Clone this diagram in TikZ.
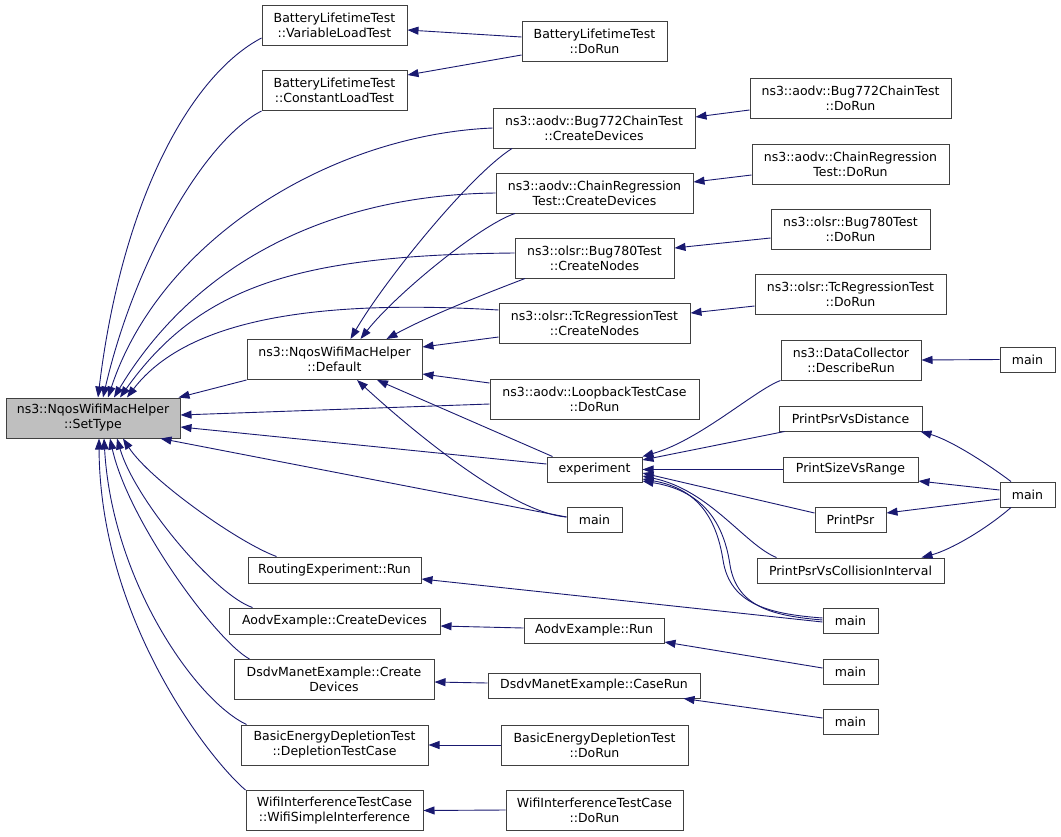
\documentclass[tikz,border=0pt]{standalone}
\usepackage{fontspec}
\setmainfont{DejaVu Sans}
\usetikzlibrary{arrows.meta}
\definecolor{edgeblue}{RGB}{25,25,112}
\definecolor{boxline}{HTML}{404040}
\definecolor{hilite}{HTML}{BFBFBF}

\begin{document}
\begin{tikzpicture}[x=1pt,y=-1pt,
  fn/.style={draw=boxline, fill=white, line width=1pt, inner sep=0pt, align=center,
    font=\fontsize{12.5}{15}\selectfont},
  call/.style={draw=edgeblue, line width=0.9pt, -{Triangle[length=11pt,width=8pt]}}]
\useasboundingbox (0,0) rectangle (1061,836);
% the function itself
\node[fn,fill=hilite,minimum width=174,minimum height=40] (settype) at (93,418) {ns3::NqosWifiMacHelper\\::SetType};
% direct callers
\node[fn,minimum width=145,minimum height=40] (vlt) at (334.5,25) {BatteryLifetimeTest\\::VariableLoadTest};
\node[fn,minimum width=145,minimum height=40] (clt) at (334.5,90.5) {BatteryLifetimeTest\\::ConstantLoadTest};
\node[fn,minimum width=175,minimum height=40] (deflt) at (334.5,359.5) {ns3::NqosWifiMacHelper\\::Default};
\node[fn,minimum width=173,minimum height=26] (rexp) at (334.5,570) {RoutingExperiment::Run};
\node[fn,minimum width=211,minimum height=26] (aodvcd) at (334.5,621) {AodvExample::CreateDevices};
\node[fn,minimum width=200,minimum height=40] (dsdvcd) at (334,679.5) {DsdvManetExample::Create\\Devices};
\node[fn,minimum width=187,minimum height=40] (basiccd) at (334.5,745) {BasicEnergyDepletionTest\\::DepletionTestCase};
\node[fn,minimum width=177,minimum height=40] (wifisi) at (334.5,810.5) {WifiInterferenceTestCase\\::WifiSimpleInterference};
% third column
\node[fn,minimum width=145,minimum height=40] (bdorun) at (594.5,41) {BatteryLifetimeTest\\::DoRun};
\node[fn,minimum width=202,minimum height=40] (bugcd) at (594,128) {ns3::aodv::Bug772ChainTest\\::CreateDevices};
\node[fn,minimum width=197,minimum height=40] (chaincd) at (594.5,193) {ns3::aodv::ChainRegression\\Test::CreateDevices};
\node[fn,minimum width=159,minimum height=40] (bugcn) at (594.5,258) {ns3::olsr::Bug780Test\\::CreateNodes};
\node[fn,minimum width=191,minimum height=40] (tccn) at (594.5,323) {ns3::olsr::TcRegressionTest\\::CreateNodes};
\node[fn,minimum width=209,minimum height=40] (loop) at (594.5,399) {ns3::aodv::LoopbackTestCase\\::DoRun};
\node[fn,minimum width=95,minimum height=25] (exper) at (594.5,469.5) {experiment};
\node[fn,minimum width=55,minimum height=25] (maina) at (594.5,519.5) {main};
\node[fn,minimum width=140,minimum height=25] (aodvrun) at (594,630.5) {AodvExample::Run};
\node[fn,minimum width=212,minimum height=25] (caserun) at (594,685.5) {DsdvManetExample::CaseRun};
\node[fn,minimum width=187,minimum height=40] (basicdo) at (594.5,745) {BasicEnergyDepletionTest\\::DoRun};
\node[fn,minimum width=177,minimum height=40] (wifido) at (594.5,810) {WifiInterferenceTestCase\\::DoRun};
% fourth column
\node[fn,minimum width=201,minimum height=40] (bugdo) at (850.5,98.5) {ns3::aodv::Bug772ChainTest\\::DoRun};
\node[fn,minimum width=197,minimum height=40] (chaindo) at (850.5,164) {ns3::aodv::ChainRegression\\Test::DoRun};
\node[fn,minimum width=159,minimum height=40] (bugdoo) at (850.5,229) {ns3::olsr::Bug780Test\\::DoRun};
\node[fn,minimum width=191,minimum height=40] (tcdo) at (850.5,294) {ns3::olsr::TcRegressionTest\\::DoRun};
\node[fn,minimum width=140,minimum height=40] (describe) at (851,360) {ns3::DataCollector\\::DescribeRun};
\node[fn,minimum width=143,minimum height=25] (psrdist) at (850.5,418.5) {PrintPsrVsDistance};
\node[fn,minimum width=135,minimum height=25] (sizerange) at (850.5,469.5) {PrintSizeVsRange};
\node[fn,minimum width=71,minimum height=25] (psr) at (850.5,519.5) {PrintPsr};
\node[fn,minimum width=187,minimum height=25] (psrcoll) at (850.5,570.5) {PrintPsrVsCollisionInterval};
\node[fn,minimum width=55,minimum height=25] (maind) at (850.5,621) {main};
\node[fn,minimum width=55,minimum height=25] (maine) at (850.5,672) {main};
\node[fn,minimum width=55,minimum height=25] (mainf) at (850.5,722) {main};
% last column
\node[fn,minimum width=55,minimum height=25] (mainb) at (1027.5,359.5) {main};
\node[fn,minimum width=55,minimum height=25] (mainc) at (1027.5,494.5) {main};

% calls into SetType, from above
\draw[call] ([yshift=-13pt]vlt.west) .. controls (191,75) and (122,199) .. ([xshift=5pt]settype.north);
\draw[call] (clt.south west) .. controls (205,140) and (135,260) .. ([xshift=10pt]settype.north);
\draw[call] (bugcd.west) .. controls (330,135) and (160,240) .. ([xshift=15pt]settype.north);
\draw[call] (chaincd.west) .. controls (340,195) and (200,255) .. ([xshift=21pt]settype.north);
\draw[call] ([yshift=5pt]bugcn.west) .. controls (300,255) and (200,285) .. ([xshift=27pt]settype.north);
\draw[call] ([yshift=13pt]tccn.west) .. controls (330,300) and (190,315) .. ([xshift=34pt]settype.north);
\draw[call] (deflt.south west) -- ([xshift=-2pt]settype.north east);
\draw[call] ([yshift=-5pt]loop.west) -- ([yshift=3pt]settype.east);
\draw[call] ([yshift=5.5pt]exper.west) -- ([yshift=-9pt]settype.east);
\draw[call] ([yshift=2.5pt]maina.west) -- ([xshift=-20pt]settype.south east);
% calls into SetType, from below
\draw[call] ([xshift=29pt]rexp.north west) .. controls (239,543) and (150,480) .. ([xshift=30pt]settype.south);
\draw[call] ([xshift=24pt]aodvcd.north west) .. controls (215,595) and (135,500) .. ([xshift=24pt]settype.south);
\draw[call] ([xshift=16pt]dsdvcd.north west) .. controls (215,640) and (128,520) .. ([xshift=17pt]settype.south);
\draw[call] ([xshift=6pt]basiccd.north west) .. controls (195,700) and (112,580) .. ([xshift=11pt]settype.south);
\draw[call] (wifisi.north west) .. controls (210,760) and (100,620) .. ([xshift=6pt]settype.south);
% calls into Default
\draw[call] ([xshift=-82pt]bugcd.south) .. controls (470,175) and (385,280) .. ([xshift=16pt]deflt.north);
\draw[call] ([xshift=-79.5pt]chaincd.south) .. controls (480,225) and (395,295) .. ([xshift=26pt]deflt.north);
\draw[call] ([xshift=-69.5pt]bugcn.south) .. controls (495,290) and (430,315) .. ([xshift=52pt]deflt.north);
\draw[call] ([yshift=-14pt]tccn.west) -- ([yshift=12.5pt]deflt.east);
\draw[call] ([yshift=16pt]loop.west) -- ([yshift=-14.5pt]deflt.east);
\draw[call] ([xshift=6pt]exper.north west) -- ([xshift=42.5pt]deflt.south);
\draw[call] ([yshift=2.5pt]maina.west) .. controls (505,512) and (395,415) .. ([xshift=22.5pt]deflt.south);
% the other callers
\draw[call] ([yshift=4pt]bdorun.west) -- ([yshift=-5pt]vlt.east);
\draw[call] ([yshift=-14pt]bdorun.west) -- ([yshift=15.5pt]clt.east);
\draw[call] ([yshift=-11.5pt]bugdo.west) -- ([yshift=11pt]bugcd.east);
\draw[call] ([yshift=-11pt]chaindo.west) -- ([yshift=11pt]chaincd.east);
\draw[call] ([yshift=-9pt]bugdoo.west) -- ([yshift=10pt]bugcn.east);
\draw[call] ([yshift=-12pt]tcdo.west) -- ([yshift=10pt]tccn.east);
\draw[call] (describe.south west) .. controls (755,390) and (700,440) .. (exper.north east);
\draw[call] ([xshift=6pt]psrdist.south west) -- ([yshift=9.5pt]exper.east);
\draw[call] (sizerange.west) -- (exper.east);
\draw[call] ([yshift=6.5pt]psr.west) -- ([yshift=-3.5pt]exper.east);
\draw[call] ([xshift=20pt]psrcoll.north west) .. controls (745,545) and (710,490) .. ([yshift=-6.5pt]exper.east);
\draw[call] ([yshift=3pt]maind.west) .. controls (770,614) and (730,605) .. (723,560)
  .. controls (716,515) and (695,488) .. ([yshift=-9.5pt]exper.east);
\draw[call] ([yshift=1pt]maind.west) .. controls (775,616) and (737,608) .. (730,565)
  .. controls (723,517) and (698,490) .. ([yshift=-11.5pt]exper.east);
\draw[call] ([yshift=-1pt]maind.west) -- ([yshift=-9pt]rexp.east);
\draw[call] (mainb.west) -- (describe.east);
\draw[call] ([xshift=-16.5pt]mainc.north) .. controls (985,462) and (950,440) .. ([xshift=-2pt]psrdist.south east);
\draw[call] ([yshift=4.5pt]mainc.west) -- ([yshift=-11.5pt]sizerange.east);
\draw[call] ([yshift=-4.5pt]mainc.west) -- ([yshift=6.5pt]psr.east);
\draw[call] ([xshift=-16.5pt]mainc.south) .. controls (985,530) and (950,550) .. ([xshift=-23pt]psrcoll.north east);
\draw[call] ([yshift=2.5pt]aodvrun.west) -- ([yshift=-5pt]aodvcd.east);
\draw[call] ([yshift=4pt]maine.west) -- ([yshift=-11.5pt]aodvrun.east);
\draw[call] ([yshift=2.5pt]caserun.west) -- ([yshift=-2.5pt]dsdvcd.east);
\draw[call] ([yshift=4pt]mainf.west) -- ([xshift=-17pt]caserun.south east);
\draw[call] (basicdo.west) -- (basiccd.east);
\draw[call] (wifido.west) -- (wifisi.east);
\end{tikzpicture}
\end{document}
